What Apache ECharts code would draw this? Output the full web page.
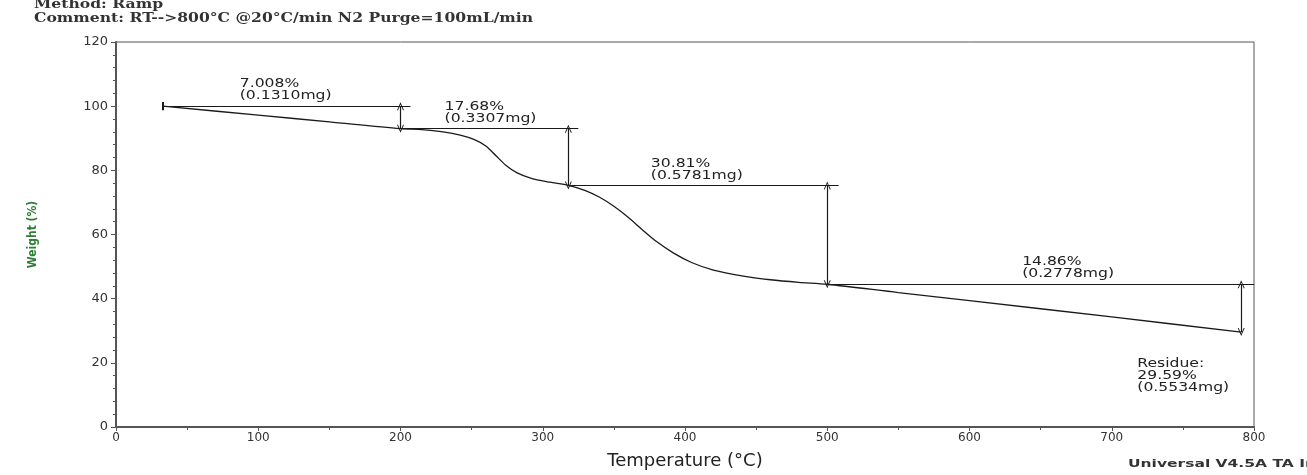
<!DOCTYPE html>
<html>
<head>
<meta charset="utf-8">
<script src="https://cdn.jsdelivr.net/npm/echarts@6/dist/echarts.min.js"></script>
<style>
html, body { margin: 0; padding: 0; background: #fff; }
#main { width: 1307px; height: 475px; }
</style>
</head>
<body>
<div id="main"></div>
<script>
// TGA curve: temperature (°C) / weight (%)
var tempC = [33, 100, 150, 200, 215, 230, 242, 252, 260, 267, 274, 282, 292, 305, 318,
  330, 340, 350, 360, 370, 380, 392, 405, 420, 440, 460, 480, 500, 550, 600, 700, 791];
var weightPct = [100, 97.2, 95.1, 92.99, 92.7, 92.0, 91.0, 89.6, 87.6, 84.6, 81.6, 79.2, 77.5, 76.3, 75.31,
  73.7, 71.6, 68.8, 65.4, 61.5, 57.8, 54.2, 51.2, 48.9, 47.1, 45.9, 45.1, 44.5, 41.9, 39.4, 34.3, 29.59];

// weight-loss steps
var stepTemp = [200, 318, 500, 791];
var stepTop = [100, 92.99, 75.31, 44.50];
var stepBottom = [92.99, 75.31, 44.50, 29.59];
var refStart = [33, 200, 318, 500];
var refEnd = [207, 325, 508, 800];
var stepText = ['7.008%\n(0.1310mg)', '17.68%\n(0.3307mg)', '30.81%\n(0.5781mg)', '14.86%\n(0.2778mg)'];
var residueText = 'Residue:\n29.59%\n(0.5534mg)';

// where the texts sit (data coords)
var stepTextAt = [[87, 100], [231, 92.99], [376, 75.31], [637, 44.5]];
var residueAt = [718, 21.5];

var xTicks = { min: 0, max: 800, interval: 100 };
var yTicks = { min: 0, max: 120, interval: 20 };

var chevron = 'path://M0,10L5,0L10,10L8.6,10L5,2.8L1.4,10Z';
var ink = '#1a1a1a';
var font = 'DejaVu Sans, sans-serif';

var marks = [];
for (var i = 0; i < stepTemp.length; i++) {
  marks.push([
    { coord: [refStart[i], stepTop[i]], symbol: 'none' },
    { coord: [refEnd[i], stepTop[i]], symbol: 'none' }
  ]);
  marks.push([
    { coord: [stepTemp[i], stepTop[i]], symbol: chevron },
    { coord: [stepTemp[i], stepBottom[i]], symbol: chevron }
  ]);
}
// little start bar
marks.push([
  { coord: [tempC[0], 101.3], symbol: 'none' },
  { coord: [tempC[0], 98.7], symbol: 'none', lineStyle: { width: 2 } }
]);

// annotation texts: [x, y, text, vertical anchor]
var noteData = stepText.map(function (t, i) {
  return [stepTextAt[i][0], stepTextAt[i][1], t, 'bottom'];
});
noteData.push([residueAt[0], residueAt[1], residueText, 'top']);

var myChart = echarts.init(document.getElementById('main'));
var option = {
  animation: false,
  backgroundColor: '#fff',
  graphic: [{
    type: 'text',
    left: 34,
    top: -2,
    scaleX: 1.3,
    style: {
      text: 'Method: Ramp\nComment: RT-->800°C @20°C/min N2 Purge=100mL/min',
      font: 'bold 12px DejaVu Serif, serif',
      lineHeight: 14,
      fill: '#333'
    }
  }, {
    type: 'text',
    left: 1128,
    top: 459,
    scaleX: 1.55,
    style: {
      text: 'Universal V4.5A TA Instruments',
      font: 'bold 10px DejaVu Sans, sans-serif',
      fill: '#333'
    }
  }],
  grid: {
    left: 116, right: 53, top: 42, bottom: 38,
    show: true, borderColor: '#555', borderWidth: 1
  },
  xAxis: {
    type: 'value',
    min: xTicks.min, max: xTicks.max, interval: xTicks.interval,
    name: 'Temperature (°C)',
    nameLocation: 'middle',
    nameGap: 25,
    nameTextStyle: { fontFamily: font, fontSize: 18, color: '#222' },
    axisLine: { show: true, lineStyle: { color: '#555', width: 2 } },
    axisTick: { show: true, length: 4, lineStyle: { color: '#555' } },
    minorTick: { show: true, splitNumber: 2, length: 3, lineStyle: { color: '#555' } },
    axisLabel: { fontFamily: font, fontSize: 12, color: '#333', margin: 5 },
    splitLine: { show: false }
  },
  yAxis: {
    type: 'value',
    min: yTicks.min, max: yTicks.max, interval: yTicks.interval,
    name: 'Weight (%)',
    nameLocation: 'middle',
    nameGap: 77,
    nameTextStyle: { fontFamily: 'DejaVu Sans Condensed, sans-serif', fontWeight: 'bold', fontSize: 12, color: '#2e7d32' },
    axisLine: { show: true, lineStyle: { color: '#555', width: 2 } },
    axisTick: { show: true, length: 5, lineStyle: { color: '#555' } },
    minorTick: { show: true, splitNumber: 5, length: 3, lineStyle: { color: '#555' } },
    axisLabel: { fontFamily: font, fontSize: 13, color: '#333', margin: 8 },
    splitLine: { show: false }
  },
  series: [
    {
      name: 'Weight',
      type: 'line',
      data: tempC.map(function (t, i) { return [t, weightPct[i]]; }),
      showSymbol: false,
      smooth: 0.3,
      lineStyle: { color: ink, width: 1.3 },
      markLine: {
        silent: true,
        symbolSize: [7, 8],
        label: { show: false },
        lineStyle: { type: 'solid', color: ink, width: 1.2 },
        emphasis: { disabled: true },
        data: marks
      },
      z: 3
    },
    {
      name: 'notes',
      type: 'custom',
      silent: true,
      data: noteData,
      renderItem: function (params, api) {
        var p = api.coord([api.value(0), api.value(1)]);
        var item = noteData[params.dataIndex];
        var up = item[3] === 'bottom';
        return {
          type: 'text',
          x: p[0],
          y: up ? p[1] - 4 : p[1],
          scaleX: 1.3,
          style: {
            text: item[2],
            font: '12px DejaVu Sans, sans-serif',
            lineHeight: 12,
            fill: '#222',
            align: 'left',
            verticalAlign: up ? 'bottom' : 'top'
          }
        };
      }
    }
  ]
};
myChart.setOption(option);
</script>
</body>
</html>
